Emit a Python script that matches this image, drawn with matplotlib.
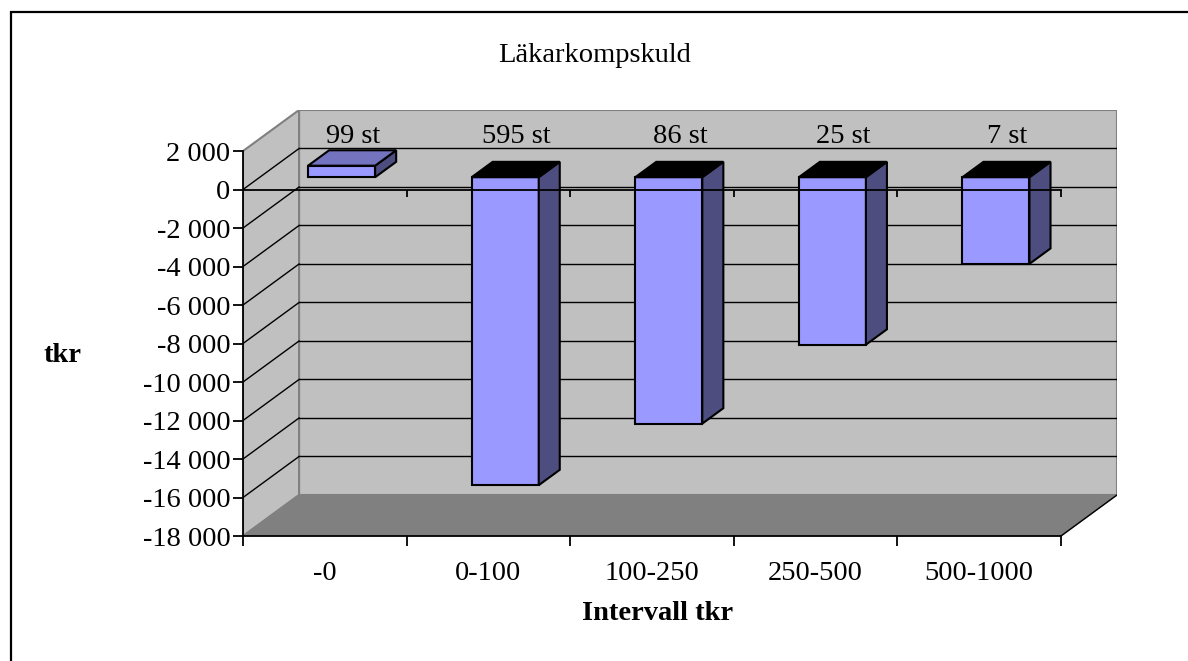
import numpy as np
import matplotlib
matplotlib.use("Agg")
import matplotlib.pyplot as plt
from matplotlib.patches import Polygon, Rectangle

# ---- data ----
categories = ["-0", "0-100", "100-250", "250-500", "500-1000"]
values = [600, -16000, -12800, -8700, -4500]
counts = [99, 595, 86, 25, 7]
yticks = [2000, 0, -2000, -4000, -6000, -8000, -10000, -12000, -14000, -16000, -18000]
ytick_labels = ["2 000", "0", "-2 000", "-4 000", "-6 000", "-8 000", "-10 000",
                "-12 000", "-14 000", "-16 000", "-18 000"]
title = "Läkarkompskuld"
xlabel = "Intervall tkr"
ylabel = "tkr"

# ---- style ----
plt.rcParams['font.family'] = ['Liberation Serif', 'DejaVu Serif']
FS = 20.5
WALL = "#C0C0C0"
FLOOR = "#808080"
EDGE = "#808080"
FRONT = "#9999FF"
SIDE = "#4D4D80"
TOP_POS = "#7373BF"
TOP_NEG = "#000000"

ncat = len(categories)
ymin, ymax = min(yticks), max(yticks)
DX = 0.3427          # depth offset in category units
DY = 2132            # depth offset in value units
D0, D1 = 0.30, 0.675  # bar depth (front/back) as fraction of full depth
BW = 0.41

fig = plt.figure(figsize=(11.88, 6.61), dpi=100)
W, H = 1188, 661
ax = fig.add_axes([243 / W, (H - 536) / H, (1117 - 243) / W, (536 - 110) / H])
ax.set_xlim(0, ncat + DX)
ax.set_ylim(ymin, ymax + DY)
ax.patch.set_visible(False)

# walls and floor
back = Polygon([(DX, ymin + DY), (ncat + DX, ymin + DY), (ncat + DX, ymax + DY), (DX, ymax + DY)],
               closed=True, facecolor=WALL, edgecolor=EDGE, lw=1.5, zorder=1)
side = Polygon([(0, ymin), (DX, ymin + DY), (DX, ymax + DY), (0, ymax)],
               closed=True, facecolor=WALL, edgecolor=EDGE, lw=1.5, zorder=1)
floor = Polygon([(0, ymin), (ncat, ymin), (ncat + DX, ymin + DY), (DX, ymin + DY)],
                closed=True, facecolor=FLOOR, edgecolor=FLOOR, lw=1, zorder=1.5)
for p in (back, side, floor):
    ax.add_patch(p)
ax.plot([ncat, ncat + DX], [ymin, ymin + DY], color="black", lw=1, zorder=2)

# gridlines
for v in yticks:
    if v in (ymin, ymax):
        continue
    ax.plot([DX, ncat + DX], [v + DY, v + DY], color="black", lw=1, zorder=2)
    ax.plot([0, DX], [v, v + DY], color="black", lw=1, zorder=2)

# bars
for i, v in enumerate(values):
    c = i + 0.5 + D0 * DX
    x0, x1 = c - BW / 2, c + BW / 2
    yb = D0 * DY
    yt = v + D0 * DY
    ddx, ddy = (D1 - D0) * DX, (D1 - D0) * DY
    lo, hi = min(yb, yt), max(yb, yt)
    front = Polygon([(x0, lo), (x1, lo), (x1, hi), (x0, hi)], closed=True,
                    facecolor=FRONT, edgecolor="black", lw=1.5, zorder=3)
    sidef = Polygon([(x1, lo), (x1 + ddx, lo + ddy), (x1 + ddx, hi + ddy), (x1, hi)], closed=True,
                    facecolor=SIDE, edgecolor="black", lw=1.5, zorder=3)
    top = Polygon([(x0, hi), (x1, hi), (x1 + ddx, hi + ddy), (x0 + ddx, hi + ddy)], closed=True,
                  facecolor=TOP_POS if v > 0 else TOP_NEG, edgecolor="black", lw=1.5, zorder=3)
    for p in (front, sidef, top):
        ax.add_patch(p)

# count labels on back wall
for i, n in enumerate(counts):
    ax.text(i + 0.5 + 0.5 * DX, 2780, f"{n} st", ha="center", va="center", fontsize=FS, zorder=4)

# zero category axis with ticks (drawn over bars)
tick_len = 365
ax.plot([0, ncat], [0, 0], color="black", lw=1.3, zorder=5)
ax.vlines(np.arange(1, ncat + 1), -tick_len, 0, color="black", lw=1.3, zorder=5)

# spines / ticks
for s in ("top", "right"):
    ax.spines[s].set_visible(False)
ax.spines["left"].set_bounds(ymin, ymax)
ax.spines["bottom"].set_bounds(0, ncat)
for s in ("left", "bottom"):
    ax.spines[s].set_linewidth(1.3)
    ax.spines[s].set_zorder(6)

ax.set_yticks(yticks)
ax.set_yticklabels(ytick_labels, fontsize=FS)
ax.tick_params(axis="y", length=7, width=1.3, pad=2, direction="out")

ax.set_xticks(np.arange(ncat + 1))
ax.set_xticklabels([""] * (ncat + 1))
ax.set_xticks(np.arange(ncat) + 0.5, minor=True)
ax.set_xticklabels(categories, minor=True, fontsize=FS)
ax.tick_params(axis="x", which="major", length=7, width=1.3, direction="out")
ax.tick_params(axis="x", which="minor", length=0, pad=18)

# titles
fig.text(595 / W, (H - 55) / H, title, ha="center", va="center", fontsize=FS)
fig.text(658 / W, (H - 614) / H, xlabel, ha="center", va="center", fontsize=FS, fontweight="bold")
fig.text(63 / W, (H - 355) / H, ylabel, ha="center", va="center", fontsize=FS, fontweight="bold")

# outer border
fig.patches.append(Rectangle((11 / W, -0.1), 1.2, (H - 12) / H + 0.1, fill=False,
                             edgecolor="black", lw=1.6, transform=fig.transFigure))

fig.savefig("out.png", dpi=100)
